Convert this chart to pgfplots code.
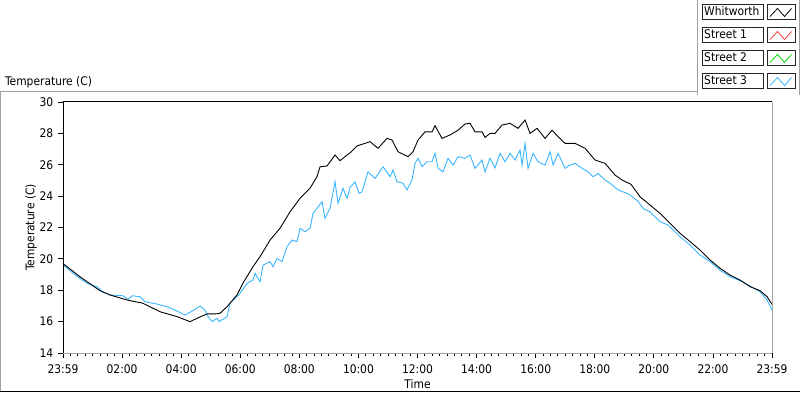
\documentclass[border=0pt]{standalone}
\usepackage{fontspec}
\setmainfont{DejaVu Sans Condensed}
\usepackage{pgfplots}
\pgfplotsset{compat=1.18}
\usepackage{pgfplotstable}
\definecolor{lvblue}{RGB}{56,182,255}
\definecolor{lvred}{RGB}{255,64,64}
\definecolor{lvgreen}{RGB}{0,220,0}
\definecolor{framegray}{RGB}{160,160,160}
\newcommand\lvfont{\fontsize{11.9bp}{14bp}\selectfont}

\pgfplotstableread{
t T
0 19.70
0.575 18.86
1.253 17.97
1.591 17.70
2.167 17.38
2.708 17.17
3.284 16.63
3.859 16.32
4.299 16.00
4.638 16.30
4.875 16.49
5.213 16.50
5.315 16.53
5.552 16.95
5.890 17.70
6.093 18.46
6.432 19.50
6.669 20.14
7.007 21.20
7.346 21.95
7.685 23.00
8.023 23.86
8.362 24.50
8.598 25.24
8.700 25.87
8.937 25.92
9.208 26.62
9.377 26.26
9.614 26.62
9.716 26.75
9.953 27.20
10.393 27.47
10.663 27.05
10.968 27.68
11.137 27.58
11.341 26.83
11.679 26.51
11.848 26.83
12.018 27.58
12.255 28.10
12.492 28.10
12.593 28.49
12.830 27.68
13.101 27.90
13.372 28.20
13.609 28.60
13.778 28.64
13.947 28.10
14.184 28.10
14.286 27.74
14.455 28.00
14.624 28.00
14.861 28.53
15.132 28.64
15.403 28.32
15.640 28.85
15.809 28.00
16.047 28.32
16.317 27.68
16.555 28.20
16.758 27.79
16.995 27.36
17.333 27.36
17.672 27.05
18.010 26.30
18.348 26.09
18.687 25.34
18.924 25.03
19.230 24.75
19.533 23.96
19.871 23.43
20.210 22.90
20.548 22.27
20.887 21.63
21.226 21.10
21.564 20.56
21.903 19.93
22.241 19.40
22.580 18.97
22.918 18.65
23.257 18.23
23.596 17.97
23.833 17.59
24.000 17.10
}\whitworth

\pgfplotstableread{
t T
0 19.65
0.237 19.24
0.575 18.76
0.812 18.44
1.151 18.23
1.354 17.90
1.591 17.70
2.031 17.65
2.200 17.42
2.336 17.65
2.607 17.59
2.776 17.27
3.182 17.12
3.521 16.95
3.791 16.74
4.130 16.42
4.401 16.70
4.638 16.99
4.807 16.74
4.875 16.42
5.044 16.00
5.213 16.20
5.280 16.00
5.552 16.30
5.653 17.17
5.890 17.60
5.992 17.80
6.229 18.44
6.432 18.65
6.500 19.08
6.669 18.54
6.770 19.60
7.007 19.82
7.109 19.50
7.244 20.03
7.414 19.82
7.583 20.78
7.752 21.20
7.922 21.10
8.023 21.95
8.192 21.73
8.362 21.95
8.463 22.90
8.598 23.22
8.768 23.64
8.869 22.58
9.039 23.22
9.208 24.92
9.310 23.54
9.479 24.50
9.614 23.86
9.716 24.55
9.885 24.92
10.020 24.18
10.122 24.28
10.325 25.55
10.562 25.13
10.833 25.87
11.070 25.24
11.171 25.66
11.307 24.92
11.510 24.82
11.645 24.40
11.814 25.03
11.916 26.09
12.018 26.41
12.153 25.87
12.322 26.19
12.492 26.19
12.593 26.73
12.695 25.77
12.864 25.55
13.033 26.41
13.203 25.98
13.372 26.51
13.609 26.41
13.778 26.62
13.947 25.77
14.184 26.30
14.286 25.55
14.455 26.41
14.624 25.80
14.794 26.73
14.963 26.19
15.132 26.73
15.302 26.30
15.471 26.94
15.539 25.98
15.640 27.36
15.742 25.77
15.911 26.73
16.080 26.19
16.317 25.98
16.487 26.83
16.589 25.98
16.758 26.73
16.995 25.77
17.164 25.98
17.333 26.09
17.570 25.77
17.772 25.55
17.942 25.24
18.111 25.45
18.348 25.03
18.517 24.82
18.788 24.40
19.127 24.15
19.450 23.70
19.650 23.20
19.871 23.00
20.210 22.37
20.481 22.16
20.887 21.41
21.226 20.88
21.564 20.25
21.903 19.82
22.241 19.29
22.580 18.86
22.918 18.61
23.257 18.27
23.596 17.90
23.833 17.38
24.000 16.74
}\streetthree

\begin{document}
\begin{tikzpicture}[x=1bp,y=1bp]
\useasboundingbox (0,0) rectangle (800,392);
\fill[white] (0,0) rectangle (800,392);
% panel frame
\draw[framegray, line width=1bp] (0.5,0) -- (0.5,300.5) -- (697.5,300.5);
\draw[framegray, line width=1bp] (697.5,297) -- (697.5,392);
\draw[framegray, line width=1bp] (799,297) -- (799,392);
\draw[black, line width=1bp] (0,0.5) -- (800,0.5);
% title
\node[anchor=west, font=\lvfont, inner sep=0pt] at (5,310) {Temperature (C)};
% legend
\foreach \name/\col [count=\i from 0] in {Whitworth/black, Street 1/lvred, Street 2/lvgreen, Street 3/lvblue}{
  \pgfmathsetmacro\tp{388-23*\i}
  \pgfmathsetmacro\bt{\tp-15}
  \draw[black!85, line width=0.8bp] (702.5,\bt) rectangle (763,\tp);
  \draw[black!85, line width=0.8bp] (767,\bt) rectangle (795,\tp);
  \node[anchor=west, font=\lvfont, inner sep=0pt] at (704,{(\tp+\bt)/2}) {\name};
  \draw[\col, line width=0.8bp] (770,\bt+2.5) -- (777.5,\tp-4.5) -- (784.5,\bt+2.5) -- (791.5,\tp-4.5);
}
\begin{axis}[
  at={(63bp,39bp)}, anchor=south west,
  scale only axis, width=709bp, height=251bp,
  xmin=0, xmax=24, ymin=14, ymax=30,
  axis line style={draw=none},
  xtick={0,2,...,24},
  xticklabels={23:59,02:00,04:00,06:00,08:00,10:00,12:00,14:00,16:00,18:00,20:00,22:00,23:59},
  minor x tick num=7,
  ytick={14,16,...,30},
  tick align=outside,
  xtick pos=left, ytick pos=left,
  major tick length=5bp, minor tick length=3bp,
  tick style={black, line width=0.8bp},
  /pgf/number format/assume math mode=true,
  tick label style={font=\lvfont},
  xticklabel style={inner sep=0pt, yshift=-6.5bp},
  yticklabel style={inner sep=0pt, xshift=-4.5bp},
  xlabel={Time}, ylabel={Temperature (C)},
  xlabel style={at={(axis description cs:0.5,-0.1235)}, anchor=center, font=\lvfont},
  ylabel style={at={(axis description cs:-0.045,0.5)}, anchor=center, font=\lvfont},
  after end axis/.code={
    \draw[black, line width=1bp] (rel axis cs:0,0) -- (rel axis cs:0,1) -- (rel axis cs:1,1);
    \draw[gray!70, line width=1bp] (rel axis cs:1,1) -- (rel axis cs:1,0);
    \draw[gray!70, line width=1bp] (rel axis cs:0,0) -- (rel axis cs:1,0);
  },
]
\addplot[lvblue, line width=0.9bp] table[x=t, y=T] {\streetthree};
\addplot[black, line width=0.9bp] table[x=t, y=T] {\whitworth};
\end{axis}
\end{tikzpicture}
\end{document}
